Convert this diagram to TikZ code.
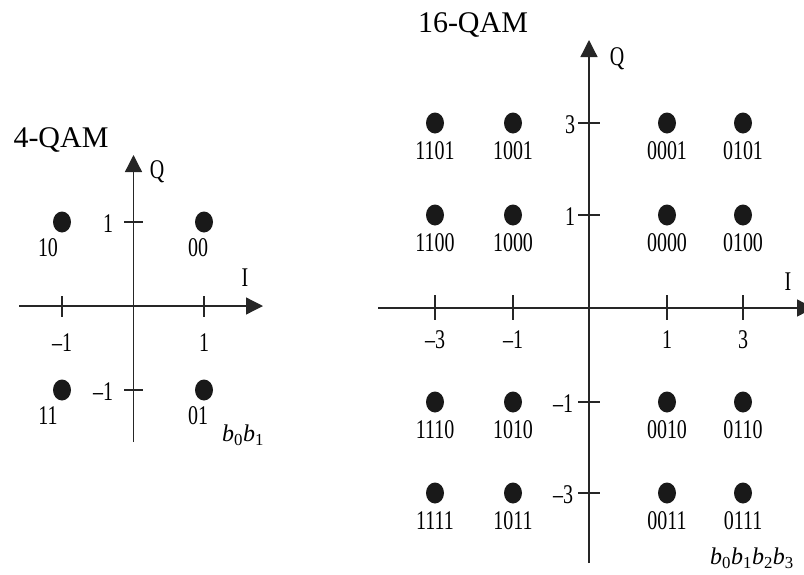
\documentclass[tikz,border=0pt]{standalone}
\usepackage{fontspec}
\setmainfont{Liberation Serif}
\newfontfamily\narrowserif[FakeStretch=0.74]{Liberation Serif}
\usetikzlibrary{
  shapes.geometric,
  arrows.meta
}

\begin{document}
\begin{tikzpicture}[
  x=1pt, y=-1pt,
  axis/.style={
    line width=1.3pt, black!85,
    -{Triangle[length=17pt,width=17pt]}},
  tickmark/.style={
    line width=1.1pt, black!85},
  dot/.style={
    ellipse, fill=black!90, inner sep=0pt,
    minimum width=18pt, minimum height=21pt},
  bits/.style={
    inner sep=0pt,
    font=\narrowserif\fontsize{27}{30}\selectfont},
  title/.style={
    inner sep=0pt,
    font=\fontsize{30}{34}\selectfont},
  bitorder/.style={
    inner sep=0pt,
    font=\fontsize{24}{28}\selectfont}
]
\useasboundingbox (0,0) rectangle (804,574);

% 4-QAM
\node[title] (t4) at (61,140) {4-QAM};

\coordinate (a4w) at (19,306);
\coordinate (a4e) at (263,306);
\coordinate (a4s) at (133.5,442);
\coordinate (a4n) at (133.5,155);
\draw[axis] (a4w) -- (a4e);
\draw[axis] (a4s) -- (a4n);
\node[bits] (i4) at (245,278) {I};
\node[bits] (q4) at (157,172) {Q};

\foreach \x/\lab/\n in {62/{–1}/a,204/1/b}{
  \draw[tickmark] (\x,296) -- (\x,317);
  \node[bits] (tx4\n) at (\x,343) {\lab};
}
\foreach \y/\lab/\lx/\n in {222/1/108/a,390/{–1}/103/b}{
  \draw[tickmark] (124,\y) -- (143,\y);
  \node[bits] (ty4\n) at (\lx,\y+2) {\lab};
}

\foreach \x/\y/\b/\lx in
  {62/222/10/48, 204/222/00/198,
   62/390/11/48, 204/390/01/198}{
  \node[dot] (q4-\b) at (\x,\y) {};
  \node[bits] (l4-\b) at (\lx,\y+26) {\b};
}
\node[bitorder] (o4) at (243,435) {\textit{b}\textsubscript{0}\textit{b}\textsubscript{1}};

% 16-QAM
\node[title] (t16) at (473,25) {16-QAM};

\coordinate (a16w) at (378,308);
\coordinate (a16e) at (814,308);
\coordinate (a16s) at (589,563);
\coordinate (a16n) at (589,40);
\draw[axis] (a16w) -- (a16e);
\draw[axis] (a16s) -- (a16n);
\node[bits] (i16) at (788,282) {I};
\node[bits] (q16) at (617,59) {Q};

\foreach \x/\lab/\n in {435/{–3}/a,513/{–1}/b,667/1/c,743/3/d}{
  \draw[tickmark] (\x,295) -- (\x,320);
  \node[bits] (tx16\n) at (\x,340) {\lab};
}
\foreach \y/\lab/\lx/\n in {123/3/570/a,215/1/570/b,402/{–1}/563/c,493/{–3}/563/d}{
  \draw[tickmark] (578,\y) -- (600,\y);
  \node[bits] (ty16\n) at (\lx,\y+2) {\lab};
}

\foreach \x/\y/\b in
  {435/123/1101, 513/123/1001, 667/123/0001, 743/123/0101,
   435/215/1100, 513/215/1000, 667/215/0000, 743/215/0100,
   435/402/1110, 513/402/1010, 667/402/0010, 743/402/0110,
   435/493/1111, 513/493/1011, 667/493/0011, 743/493/0111}{
  \node[dot] (q16-\b) at (\x,\y) {};
  \node[bits] (l16-\b) at (\x,\y+28) {\b};
}
\node[bitorder] (o16) at (752,558)
  {\textit{b}\textsubscript{0}\textit{b}\textsubscript{1}\textit{b}\textsubscript{2}\textit{b}\textsubscript{3}};
\end{tikzpicture}
\end{document}
